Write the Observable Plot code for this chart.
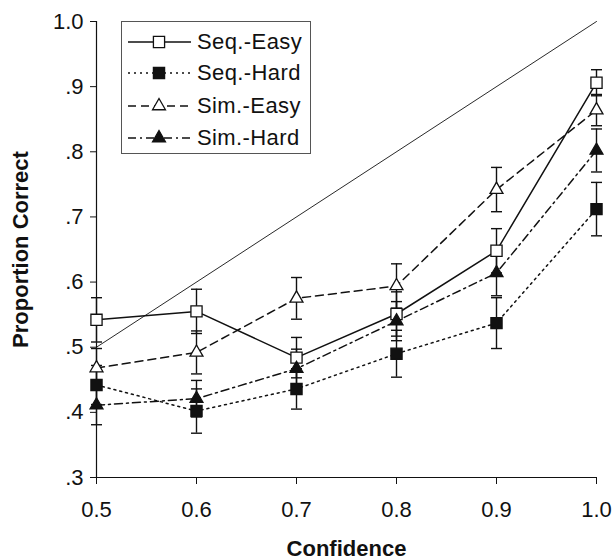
<!DOCTYPE html>
<html><head><meta charset="utf-8">
<script src="https://cdn.jsdelivr.net/npm/d3@7"></script>
<script src="https://cdn.jsdelivr.net/npm/@observablehq/plot@0.6"></script>
<style>
body{margin:0;background:#fff;}
#wrap{position:relative;width:616px;height:559px;font-family:"Liberation Sans",Arial,sans-serif;color:#111;}
#legend{position:absolute;left:121px;top:21px;width:190px;height:133px;border:1px solid #555;background:#fff;box-sizing:border-box;}
.row{position:absolute;left:0;height:30px;width:188px;}
.row svg{position:absolute;left:0;top:0;}
.row span{position:absolute;left:75px;top:2px;font-size:22px;letter-spacing:0.4px;line-height:26px;white-space:nowrap;}
</style></head><body><div id="wrap"><div id="legend"></div></div>
<script>
const confidence = [0.5, 0.6, 0.7, 0.8, 0.9, 1.0];
const seriesNames = ["Seq.-Easy", "Seq.-Hard", "Sim.-Easy", "Sim.-Hard"];
const seqEasy    = [0.542, 0.555, 0.484, 0.551, 0.648, 0.906];
const seqEasyErr = [0.034, 0.034, 0.031, 0.034, 0.034, 0.020];
const seqHard    = [0.442, 0.402, 0.436, 0.490, 0.537, 0.712];
const seqHardErr = [0.030, 0.034, 0.031, 0.036, 0.039, 0.041];
const simEasy    = [0.468, 0.492, 0.575, 0.594, 0.742, 0.864];
const simEasyErr = [0.030, 0.033, 0.032, 0.034, 0.034, 0.024];
const simHard    = [0.411, 0.421, 0.467, 0.540, 0.614, 0.802];
const simHardErr = [0.030, 0.028, 0.030, 0.030, 0.035, 0.033];
const yTicks = [0.3, 0.4, 0.5, 0.6, 0.7, 0.8, 0.9, 1.0];
const xTicks = [0.5, 0.6, 0.7, 0.8, 0.9, 1.0];
const diagonal = [0.5, 1.0];

const values = [seqEasy, seqHard, simEasy, simHard];
const errors = [seqEasyErr, seqHardErr, simEasyErr, simHardErr];
const styles = [
  {dash: null, symbol: "square", fill: "white", r: 6.3},
  {dash: "2,4", symbol: "square", fill: "#111", r: 6.3},
  {dash: "8,5", symbol: "triangle", fill: "white", r: 4.8},
  {dash: "8,4,2,4", symbol: "triangle", fill: "#111", r: 4.8}
];
const table = seriesNames.flatMap((s, i) =>
  confidence.map((c, j) => ({series: s, i, x: c, y: values[i][j], err: errors[i][j]})));

const cap = {draw(ctx) { ctx.moveTo(-5.5, 0); ctx.lineTo(5.5, 0); }};
const ink = "#111";

const marks = [
  Plot.axisY({ticks: yTicks, tickFormat: d => d === 1 ? "1.0" : d3.format(".1f")(d).slice(1),
    tickSize: 6, tickPadding: 7, label: null, fontSize: 22}),
  Plot.axisX({ticks: xTicks, tickFormat: d3.format(".1f"), tickSize: 7, tickPadding: 17, label: null, fontSize: 22}),
  Plot.ruleX([0.5], {stroke: ink, strokeWidth: 1.2}),
  Plot.ruleY([0.3], {stroke: ink, strokeWidth: 1.2}),
  Plot.line(diagonal.map(v => ({x: v, y: v})), {x: "x", y: "y", stroke: ink, strokeWidth: 0.9}),
  Plot.ruleX(table, {x: "x", y1: d => d.y - d.err, y2: d => d.y + d.err, stroke: ink, strokeWidth: 1.4}),
  Plot.dot(table, {x: "x", y: d => d.y + d.err, symbol: cap, stroke: ink, strokeWidth: 1.4, fill: "none"}),
  Plot.dot(table, {x: "x", y: d => d.y - d.err, symbol: cap, stroke: ink, strokeWidth: 1.4, fill: "none"}),
  ...seriesNames.map((s, i) => Plot.line(table.filter(d => d.i === i),
    {x: "x", y: "y", stroke: ink, strokeWidth: 1.5, strokeDasharray: styles[i].dash})),
  ...seriesNames.map((s, i) => Plot.dot(table.filter(d => d.i === i),
    {x: "x", y: "y", symbol: styles[i].symbol, r: styles[i].r, fill: styles[i].fill, stroke: ink, strokeWidth: 1.3})),
  Plot.text(["Confidence"], {text: d => d, frameAnchor: "bottom", textAnchor: "middle", lineAnchor: "middle",
    dy: 71, fontWeight: "bold", fontSize: 22, fill: ink}),
  Plot.text(["Proportion Correct"], {text: d => d, frameAnchor: "left", textAnchor: "middle", lineAnchor: "middle",
    dx: -76, rotate: -90, fontWeight: "bold", fontSize: 22, fill: ink})
];

const chart = Plot.plot({
  width: 616, height: 559,
  marginLeft: 96, marginRight: 20, marginTop: 21, marginBottom: 82,
  style: {fontFamily: "Liberation Sans, Arial, sans-serif", fontSize: "22px", color: ink, background: "white", overflow: "visible"},
  x: {domain: [0.5, 1.0]},
  y: {domain: [0.3, 1.0]},
  marks
});
const wrap = document.getElementById("wrap");
wrap.insertBefore(chart, wrap.firstChild);

// legend
const legend = document.getElementById("legend");
const rowTops = [5, 36, 69, 101];
seriesNames.forEach((s, i) => {
  const row = document.createElement("div");
  row.className = "row";
  row.style.top = rowTops[i] + "px";
  const svg = d3.create("svg").attr("width", 75).attr("height", 30);
  svg.append("line").attr("x1", 6).attr("x2", 69).attr("y1", 15).attr("y2", 15)
    .attr("stroke", ink).attr("stroke-width", 1.5).attr("stroke-dasharray", styles[i].dash);
  const size = styles[i].r * styles[i].r * Math.PI;
  svg.append("path").attr("transform", "translate(37,15)")
    .attr("d", d3.symbol(styles[i].symbol === "square" ? d3.symbolSquare : d3.symbolTriangle, size)())
    .attr("fill", styles[i].fill).attr("stroke", ink).attr("stroke-width", 1.3);
  row.appendChild(svg.node());
  const span = document.createElement("span");
  span.textContent = s;
  row.appendChild(span);
  legend.appendChild(row);
});
</script></body></html>
